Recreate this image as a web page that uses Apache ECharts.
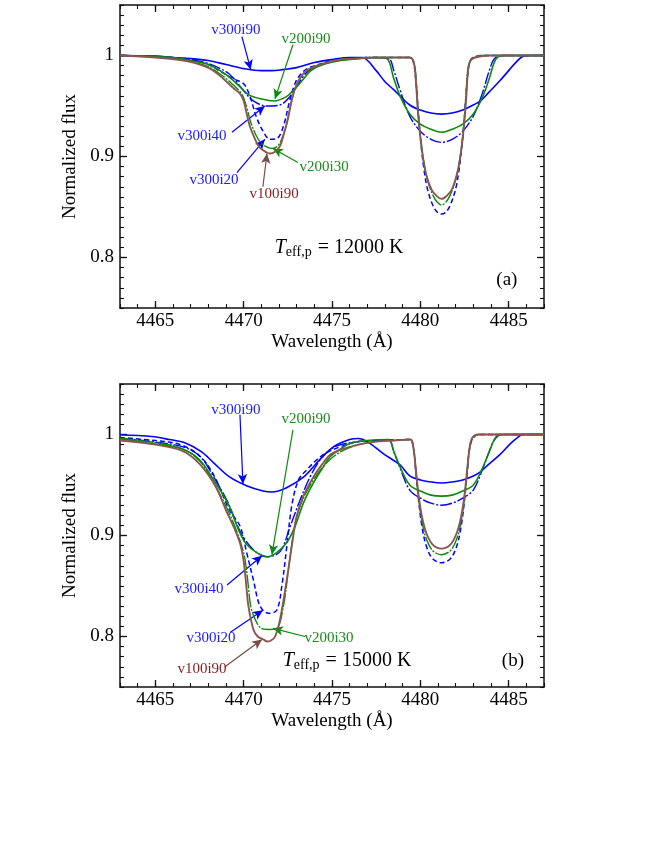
<!DOCTYPE html>
<html><head><meta charset="utf-8">
<script src="https://cdn.jsdelivr.net/npm/echarts@6/dist/echarts.min.js"></script>
<style>html,body{margin:0;padding:0;background:#fff}#c{width:654px;height:846px}</style>
</head><body><div id="c"></div>
<script>
// ---------------- Panel (a): Teff,p = 12000 K ----------------
const a_v300i90 = [[4463,1.000],[4465,0.9995],[4466,0.998],[4467,0.997],[4468,0.995],[4469,0.991],[4470,0.987],[4471,0.985],[4471.6,0.985],[4472.2,0.986],[4473,0.988],[4474,0.993],[4475,0.996],[4476,0.998],[4476.7,0.998],[4477.5,0.985],[4478,0.974],[4478.5,0.966],[4478.85,0.960],[4479.4,0.951],[4480,0.946],[4480.6,0.943],[4481.2,0.942],[4481.8,0.943],[4482.4,0.946],[4483,0.951],[4483.4,0.955],[4483.9,0.964],[4484.5,0.975],[4485,0.985],[4485.4,0.993],[4485.8,0.999],[4486.3,1.000],[4487,1.000]];
const a_v300i40 = [[4463,1.000],[4465,0.999],[4466,0.998],[4467,0.996],[4468,0.992],[4469,0.984],[4469.4,0.978],[4470,0.965],[4470.55,0.955],[4471.3,0.950],[4472.05,0.951],[4472.6,0.959],[4473.1,0.972],[4473.55,0.983],[4474,0.988],[4475,0.994],[4476,0.997],[4477,0.998],[4478.2,0.997],[4478.5,0.985],[4478.85,0.966],[4479.4,0.940],[4480,0.925],[4480.6,0.917],[4481.2,0.914],[4481.8,0.917],[4482.4,0.925],[4483,0.940],[4483.5,0.962],[4483.9,0.985],[4484.2,0.997],[4484.7,1.000],[4487,1.000]];
const a_v300i20 = [[4463,1.000],[4465,0.999],[4466,0.998],[4467,0.996],[4468,0.991],[4468.7,0.984],[4469.4,0.977],[4470,0.972],[4470.35,0.960],[4470.7,0.940],[4471.1,0.925],[4471.5,0.917],[4471.9,0.918],[4472.25,0.930],[4472.6,0.955],[4472.9,0.972],[4473.2,0.981],[4473.6,0.987],[4474.2,0.991],[4475,0.995],[4476,0.997],[4477,0.998],[4479.4,0.998],[4479.6,0.994],[4479.75,0.975],[4479.88,0.945],[4480.02,0.915],[4480.2,0.888],[4480.4,0.868],[4480.7,0.852],[4480.95,0.845],[4481.2,0.843],[4481.45,0.845],[4481.7,0.852],[4482.0,0.868],[4482.2,0.888],[4482.38,0.915],[4482.52,0.945],[4482.65,0.975],[4482.8,0.994],[4483.0,0.998],[4483.5,1.000],[4487,1.000]];
const a_v200i90 = [[4463,1.000],[4465,0.999],[4466,0.998],[4467,0.995],[4468,0.991],[4469,0.981],[4469.8,0.969],[4470.3,0.961],[4471,0.957],[4471.7,0.955],[4472.4,0.959],[4472.9,0.967],[4473.4,0.977],[4473.8,0.985],[4474.5,0.991],[4475.5,0.995],[4476.5,0.997],[4477.5,0.998],[4478.1,0.997],[4478.5,0.977],[4478.85,0.960],[4479.4,0.942],[4480,0.932],[4480.6,0.927],[4481.2,0.924],[4481.8,0.927],[4482.4,0.932],[4483,0.942],[4483.55,0.960],[4483.9,0.977],[4484.3,0.997],[4484.8,1.000],[4487,1.000]];
const a_v200i30 = [[4463,1.000],[4465,0.999],[4466,0.997],[4467,0.994],[4468,0.989],[4468.8,0.980],[4469.4,0.971],[4469.8,0.964],[4470,0.958],[4470.2,0.947],[4470.4,0.934],[4470.7,0.921],[4471,0.913],[4471.35,0.909],[4471.6,0.908],[4471.9,0.910],[4472.15,0.917],[4472.4,0.930],[4472.6,0.946],[4472.8,0.961],[4473.05,0.973],[4473.4,0.982],[4473.75,0.987],[4474.5,0.992],[4475.5,0.996],[4476.5,0.997],[4477.5,0.998],[4479.4,0.998],[4479.6,0.994],[4479.72,0.985],[4479.8,0.966],[4479.9,0.940],[4480.05,0.912],[4480.25,0.889],[4480.45,0.874],[4480.73,0.861],[4480.95,0.855],[4481.2,0.852],[4481.45,0.855],[4481.67,0.861],[4481.95,0.874],[4482.15,0.889],[4482.35,0.912],[4482.5,0.940],[4482.6,0.966],[4482.68,0.985],[4482.8,0.994],[4483.0,0.998],[4483.5,1.000],[4487,1.000]];
const a_v100i90 = [[4463,1.000],[4465,0.998],[4466.2,0.996],[4467.15,0.993],[4468.1,0.987],[4468.85,0.977],[4469.4,0.968],[4469.8,0.962],[4470,0.955],[4470.15,0.944],[4470.35,0.930],[4470.65,0.917],[4470.9,0.909],[4471.3,0.904],[4471.5,0.903],[4471.75,0.9045],[4472.05,0.910],[4472.3,0.924],[4472.5,0.937],[4472.7,0.954],[4472.9,0.967],[4473.2,0.978],[4473.55,0.985],[4473.75,0.987],[4474.5,0.992],[4475.5,0.996],[4476.5,0.997],[4477.5,0.998],[4479.4,0.998],[4479.6,0.995],[4479.69,0.987],[4479.79,0.964],[4479.88,0.940],[4480.02,0.917],[4480.17,0.897],[4480.35,0.881],[4480.64,0.867],[4480.92,0.861],[4481.2,0.858],[4481.49,0.861],[4481.77,0.867],[4482.05,0.881],[4482.24,0.897],[4482.39,0.917],[4482.52,0.940],[4482.62,0.964],[4482.71,0.987],[4482.85,0.995],[4483.1,0.998],[4483.9,1.000],[4487,1.000]];

// ---------------- Panel (b): Teff,p = 15000 K ----------------
const b_v300i90 = [[4463,0.9998],[4464.8,0.998],[4465.8,0.995],[4466.7,0.9915],[4467.6,0.983],[4468.3,0.972],[4469.2,0.958],[4470.2,0.949],[4471.1,0.944],[4471.6,0.943],[4472.4,0.947],[4473.4,0.958],[4474.3,0.975],[4475.1,0.988],[4476,0.995],[4476.5,0.996],[4477,0.993],[4477.9,0.981],[4478.85,0.970],[4479.4,0.959],[4480,0.955],[4480.6,0.953],[4481.2,0.952],[4481.8,0.953],[4482.4,0.955],[4483,0.959],[4483.4,0.963],[4483.9,0.971],[4484.5,0.980],[4485.1,0.991],[4485.5,0.997],[4485.8,1.000],[4487,1.000]];
const b_v300i40 = [[4463,0.996],[4464.8,0.993],[4466.7,0.987],[4467.6,0.977],[4468.3,0.958],[4469.1,0.933],[4469.8,0.904],[4470.55,0.886],[4471.3,0.879],[4472.06,0.884],[4472.63,0.909],[4473.19,0.935],[4473.76,0.958],[4474.33,0.975],[4474.89,0.985],[4475.5,0.990],[4476.5,0.993],[4477.5,0.994],[4478.2,0.995],[4478.5,0.983],[4478.85,0.967],[4479.4,0.945],[4480,0.937],[4480.6,0.932],[4481.2,0.930],[4481.8,0.932],[4482.4,0.937],[4483,0.945],[4483.55,0.967],[4483.9,0.983],[4484.2,0.995],[4484.6,1.000],[4487,1.000]];
const b_v300i20 = [[4463,0.997],[4465,0.994],[4466.4,0.990],[4467.5,0.979],[4468.3,0.960],[4469.2,0.925],[4469.8,0.909],[4470.17,0.883],[4470.55,0.856],[4470.93,0.830],[4471.4,0.823],[4471.87,0.826],[4472.16,0.850],[4472.44,0.889],[4472.72,0.929],[4473.1,0.955],[4473.57,0.965],[4474.14,0.975],[4474.7,0.982],[4475.5,0.988],[4476.5,0.993],[4477.5,0.994],[4479.4,0.995],[4479.6,0.987],[4479.75,0.962],[4479.9,0.935],[4480.1,0.908],[4480.35,0.889],[4480.7,0.877],[4481.2,0.873],[4481.7,0.877],[4482.05,0.889],[4482.3,0.908],[4482.5,0.935],[4482.65,0.962],[4482.8,0.987],[4483.0,0.997],[4483.3,1.000],[4487,1.000]];
const b_v200i90 = [[4463,0.996],[4464.8,0.991],[4466.5,0.986],[4467.5,0.975],[4468.3,0.955],[4469.1,0.932],[4469.8,0.902],[4470.17,0.891],[4470.74,0.883],[4471.34,0.879],[4471.87,0.883],[4472.44,0.893],[4472.91,0.909],[4473.38,0.932],[4473.95,0.952],[4474.51,0.968],[4474.89,0.978],[4475.5,0.986],[4476.02,0.991],[4476.96,0.994],[4478.2,0.995],[4478.5,0.983],[4478.85,0.968],[4479.4,0.950],[4480,0.944],[4480.6,0.940],[4481.2,0.939],[4481.8,0.940],[4482.4,0.944],[4483,0.950],[4483.55,0.968],[4483.9,0.983],[4484.3,0.998],[4484.7,1.000],[4487,1.000]];
const b_v200i30 = [[4463,0.996],[4465,0.992],[4466.5,0.986],[4467.5,0.974],[4468.3,0.952],[4469,0.929],[4469.5,0.909],[4469.9,0.889],[4470.08,0.876],[4470.27,0.849],[4470.4,0.830],[4470.65,0.817],[4471,0.808],[4471.4,0.807],[4471.87,0.808],[4472.25,0.830],[4472.53,0.866],[4472.82,0.902],[4473.19,0.929],[4473.95,0.955],[4474.7,0.972],[4475.5,0.983],[4476.5,0.990],[4477.5,0.993],[4479.4,0.995],[4479.6,0.988],[4479.75,0.963],[4479.9,0.937],[4480.1,0.913],[4480.35,0.896],[4480.7,0.885],[4481.2,0.881],[4481.7,0.885],[4482.05,0.896],[4482.3,0.913],[4482.5,0.937],[4482.65,0.963],[4482.8,0.988],[4483.0,0.997],[4483.3,1.000],[4487,1.000]];
const b_v100i90 = [[4463,0.994],[4465,0.990],[4466.5,0.984],[4467.5,0.971],[4468.4,0.949],[4469,0.925],[4469.5,0.906],[4469.8,0.892],[4469.99,0.876],[4470.15,0.850],[4470.27,0.830],[4470.55,0.807],[4470.8,0.800],[4471.12,0.797],[4471.34,0.795],[4471.55,0.796],[4471.78,0.800],[4472.06,0.817],[4472.44,0.856],[4472.72,0.889],[4473.0,0.919],[4473.38,0.939],[4473.95,0.958],[4474.51,0.972],[4474.89,0.980],[4475.5,0.985],[4476.5,0.990],[4477.5,0.993],[4478.5,0.994],[4479.45,0.995],[4479.6,0.988],[4479.75,0.965],[4479.9,0.940],[4480.1,0.918],[4480.35,0.902],[4480.7,0.891],[4481.2,0.887],[4481.7,0.891],[4482.05,0.902],[4482.3,0.918],[4482.5,0.940],[4482.65,0.965],[4482.8,0.988],[4482.95,0.997],[4483.3,1.000],[4487,1.000]];

// tick values
const xMajorTicks = [4465, 4470, 4475, 4480, 4485];
const yMajorTicks = [0.8, 0.9, 1.0];
const seriesNames = ['v300i90','v300i40','v300i20','v200i90','v200i30','v100i90'];

// annotations (data coordinates): [name, arrowStart, arrowEnd, labelCenter]
const annotA = [
  ['v300i90', [4469.9, 1.0186], [4470.4, 0.986], [4469.56, 1.0256]],
  ['v200i90', [4472.79, 1.0106], [4471.77, 0.957], [4473.53, 1.0166]],
  ['v300i40', [4469.34, 0.924], [4471.2, 0.950], [4467.64, 0.920]],
  ['v300i20', [4469.62, 0.884], [4471.2, 0.917], [4468.32, 0.877]],
  ['v200i30', [4473.07, 0.894], [4471.66, 0.908], [4474.55, 0.890]],
  ['v100i90', [4471.09, 0.870], [4471.32, 0.903], [4471.72, 0.863]]
];
const annotB = [
  ['v300i90', [4469.79, 1.0195], [4469.96, 0.951], [4469.56, 1.0245]],
  ['v200i90', [4472.79, 1.0047], [4471.6, 0.881], [4473.53, 1.0156]],
  ['v300i40', [4469.06, 0.851], [4471.04, 0.880], [4467.47, 0.847]],
  ['v300i20', [4469.23, 0.804], [4471.09, 0.826], [4468.15, 0.798]],
  ['v200i30', [4473.47, 0.800], [4471.66, 0.808], [4474.83, 0.798]],
  ['v100i90', [4468.94, 0.770], [4471.04, 0.797], [4467.64, 0.768]]
];
const panelTexts = [
  {temp: '12000', tempPos: [4475.4, 0.810], tag: '(a)', tagPos: [4484.9, 0.778]},
  {temp: '15000', tempPos: [4475.85, 0.776], tag: '(b)', tagPos: [4485.24, 0.776]}
];

const panels = [
  {v300i90:a_v300i90, v300i40:a_v300i40, v300i20:a_v300i20, v200i90:a_v200i90, v200i30:a_v200i30, v100i90:a_v100i90},
  {v300i90:b_v300i90, v300i40:b_v300i40, v300i20:b_v300i20, v200i90:b_v200i90, v200i30:b_v200i30, v100i90:b_v100i90}
];
const annots = [annotA, annotB];

const FONT = "'Liberation Serif','Times New Roman',serif";
const BLUE = '#0000ff', GREEN = '#0a8a0a', BROWN = '#8a564e';
const styles = {
  v300i90: {color: BLUE, type: 'solid', width: 1.6, text: '#1a1aff'},
  v300i40: {color: BLUE, type: [12, 2, 2, 2], width: 1.4, text: '#1a1aff'},
  v300i20: {color: BLUE, type: [5, 3], width: 1.5, text: '#1a1aff'},
  v200i90: {color: GREEN, type: 'solid', width: 1.6, text: '#1a8a1a'},
  v200i30: {color: GREEN, type: [14, 1.5, 2, 1.5], width: 1.4, text: '#1a8a1a'},
  v100i90: {color: BROWN, type: 'solid', width: 1.9, text: '#8b1a1a', arrow: '#7a4a44'}
};

const grids = [
  {left: 120, top: 5, width: 424, height: 303},
  {left: 120, top: 384, width: 424, height: 303}
];

const AX = '#111';
function xAxes(g) {
  const base = {gridIndex: g, type: 'value', min: 4463, max: 4487, splitLine: {show: false},
    axisLine: {show: true, onZero: false, lineStyle: {color: AX, width: 1.5}}};
  const major = {show: true, inside: true, length: 7, customValues: xMajorTicks, lineStyle: {color: AX, width: 1.3}};
  const minor = {show: true, inside: true, length: 4, lineStyle: {color: AX, width: 1.1}};
  return [
    Object.assign({}, base, {position: 'bottom', axisTick: major,
      axisLabel: {show: true, customValues: xMajorTicks, fontSize: 19, fontFamily: FONT, color: '#000', margin: 4,
        formatter: v => String(Math.round(v))},
      name: 'Wavelength (Å)', nameLocation: 'middle', nameGap: 25,
      nameTextStyle: {fontSize: 19, fontFamily: FONT, color: '#000'}}),
    Object.assign({}, base, {position: 'bottom', interval: 1, axisLine: {show: false}, axisTick: minor, axisLabel: {show: false}}),
    Object.assign({}, base, {position: 'top', axisTick: major, axisLabel: {show: false}}),
    Object.assign({}, base, {position: 'top', interval: 1, axisLine: {show: false}, axisTick: minor, axisLabel: {show: false}})
  ];
}
function yAxes(g) {
  const base = {gridIndex: g, type: 'value', min: 0.75, max: 1.05, splitLine: {show: false},
    axisLine: {show: true, onZero: false, lineStyle: {color: AX, width: 1.5}}};
  const major = {show: true, inside: true, length: 7, customValues: yMajorTicks, lineStyle: {color: AX, width: 1.3}};
  const minor = {show: true, inside: true, length: 4, lineStyle: {color: AX, width: 1.1}};
  return [
    Object.assign({}, base, {position: 'left', axisTick: major,
      axisLabel: {show: true, customValues: yMajorTicks, fontSize: 19, fontFamily: FONT, color: '#000', margin: 6,
        formatter: v => (Math.abs(v - 1) < 1e-9 ? '1' : v.toFixed(1))},
      name: 'Normalized flux', nameLocation: 'middle', nameGap: 28, nameRotate: 90,
      nameTextStyle: {fontSize: 19, fontFamily: FONT, color: '#000'}}),
    Object.assign({}, base, {position: 'left', interval: 0.01, axisLine: {show: false}, axisTick: minor, axisLabel: {show: false}}),
    Object.assign({}, base, {position: 'right', axisTick: major, axisLabel: {show: false}}),
    Object.assign({}, base, {position: 'right', interval: 0.01, axisLine: {show: false}, axisTick: minor, axisLabel: {show: false}})
  ];
}

const series = [];
panels.forEach((panel, p) => {
  seriesNames.forEach((name, k) => {
    const st = styles[name];
    const an = annots[p].find(a => a[0] === name);
    const mpData = [{coord: an[3], label: {formatter: name, color: st.text, fontSize: 15, fontFamily: FONT}}];
    if (name === 'v100i90') {
      const t = panelTexts[p];
      mpData.push({coord: t.tempPos, label: {
        formatter: '{t|T}{s|eff,p}{n| = ' + t.temp + ' K}',
        rich: {
          t: {fontFamily: FONT, fontStyle: 'italic', fontSize: 20, color: '#000', lineHeight: 22},
          s: {fontFamily: FONT, fontSize: 14, color: '#000', padding: [10, 1, 0, 0], lineHeight: 14},
          n: {fontFamily: FONT, fontSize: 20, color: '#000', lineHeight: 22}
        }}});
      mpData.push({coord: t.tagPos, label: {formatter: t.tag, color: '#000', fontSize: 19, fontFamily: FONT}});
    }
    series.push({
      type: 'line', name: name, xAxisIndex: 4 * p, yAxisIndex: 4 * p,
      data: panel[name], showSymbol: false, symbol: 'none', smooth: 0.35,
      lineStyle: {color: st.color, type: st.type, width: st.width}, z: 2 + k,
      markLine: {silent: true, symbol: ['none', 'arrow'], symbolSize: [7, 10], animation: false,
        lineStyle: {color: st.arrow || st.color, type: 'solid', width: 1.2}, label: {show: false},
        data: [[{coord: an[1]}, {coord: an[2]}]]},
      markPoint: {silent: true, symbol: 'circle', symbolSize: 1, animation: false,
        itemStyle: {color: 'rgba(0,0,0,0)'},
        label: {show: true, position: 'inside'}, data: mpData}
    });
  });
});

const chart = echarts.init(document.getElementById('c'), null, {renderer: 'canvas'});
chart.setOption({
  animation: false,
  backgroundColor: '#fff',
  grid: grids,
  xAxis: xAxes(0).concat(xAxes(1)),
  yAxis: yAxes(0).concat(yAxes(1)),
  series: series
});
</script></body></html>
